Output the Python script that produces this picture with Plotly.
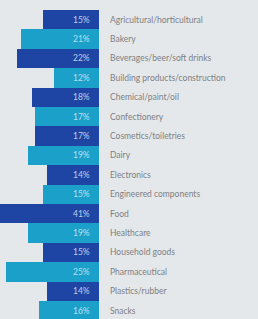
import plotly.graph_objects as go

categories = ["Agricultural/horticultural", "Bakery", "Beverages/beer/soft drinks",
              "Building products/construction", "Chemical/paint/oil", "Confectionery",
              "Cosmetics/toiletries", "Dairy", "Electronics", "Engineered components",
              "Food", "Healthcare", "Household goods", "Pharmaceutical",
              "Plastics/rubber", "Snacks"]
values = [15, 21, 22, 12, 18, 17, 17, 19, 14, 15, 41, 19, 15, 25, 14, 16]

DARK = "#1e45a4"
LIGHT = "#1aa0c9"
BG = "#e5e8eb"

ypos = list(range(len(categories)))
colors = [DARK if i % 2 == 0 else LIGHT for i in ypos]

fig = go.Figure()
fig.add_trace(go.Bar(
    x=values, y=ypos, orientation="h", marker=dict(color=colors, line=dict(width=0)),
    width=1.0, hoverinfo="skip", showlegend=False,
))

for v, y in zip(values, ypos):
    fig.add_annotation(x=0, y=y, xref="x", yref="y", text=f"{v}%", showarrow=False,
                       xanchor="right", yanchor="middle", xshift=-7,
                       font=dict(family="Lato", size=8.5, color="rgba(225,240,255,0.8)"))

fig.update_layout(
    width=258, height=319,
    margin=dict(l=0, r=159, t=10, b=0, pad=0, autoexpand=False),
    paper_bgcolor=BG, plot_bgcolor=BG,
    bargap=0,
    xaxis=dict(range=[26.5, 0], visible=False, fixedrange=True, automargin=False),
    yaxis=dict(range=[15.43, -0.5], side="right", tickmode="array", tickvals=ypos,
               ticktext=categories, showgrid=False, zeroline=False, showline=False,
               ticks="", ticklabelstandoff=10, automargin=False,
               tickfont=dict(family="Lato", size=8.5, color="#7d8083")),
)

fig.write_html("out.html", config={"displayModeBar": False},
               post_script="document.body.style.margin='0';document.body.style.overflow='hidden';")
